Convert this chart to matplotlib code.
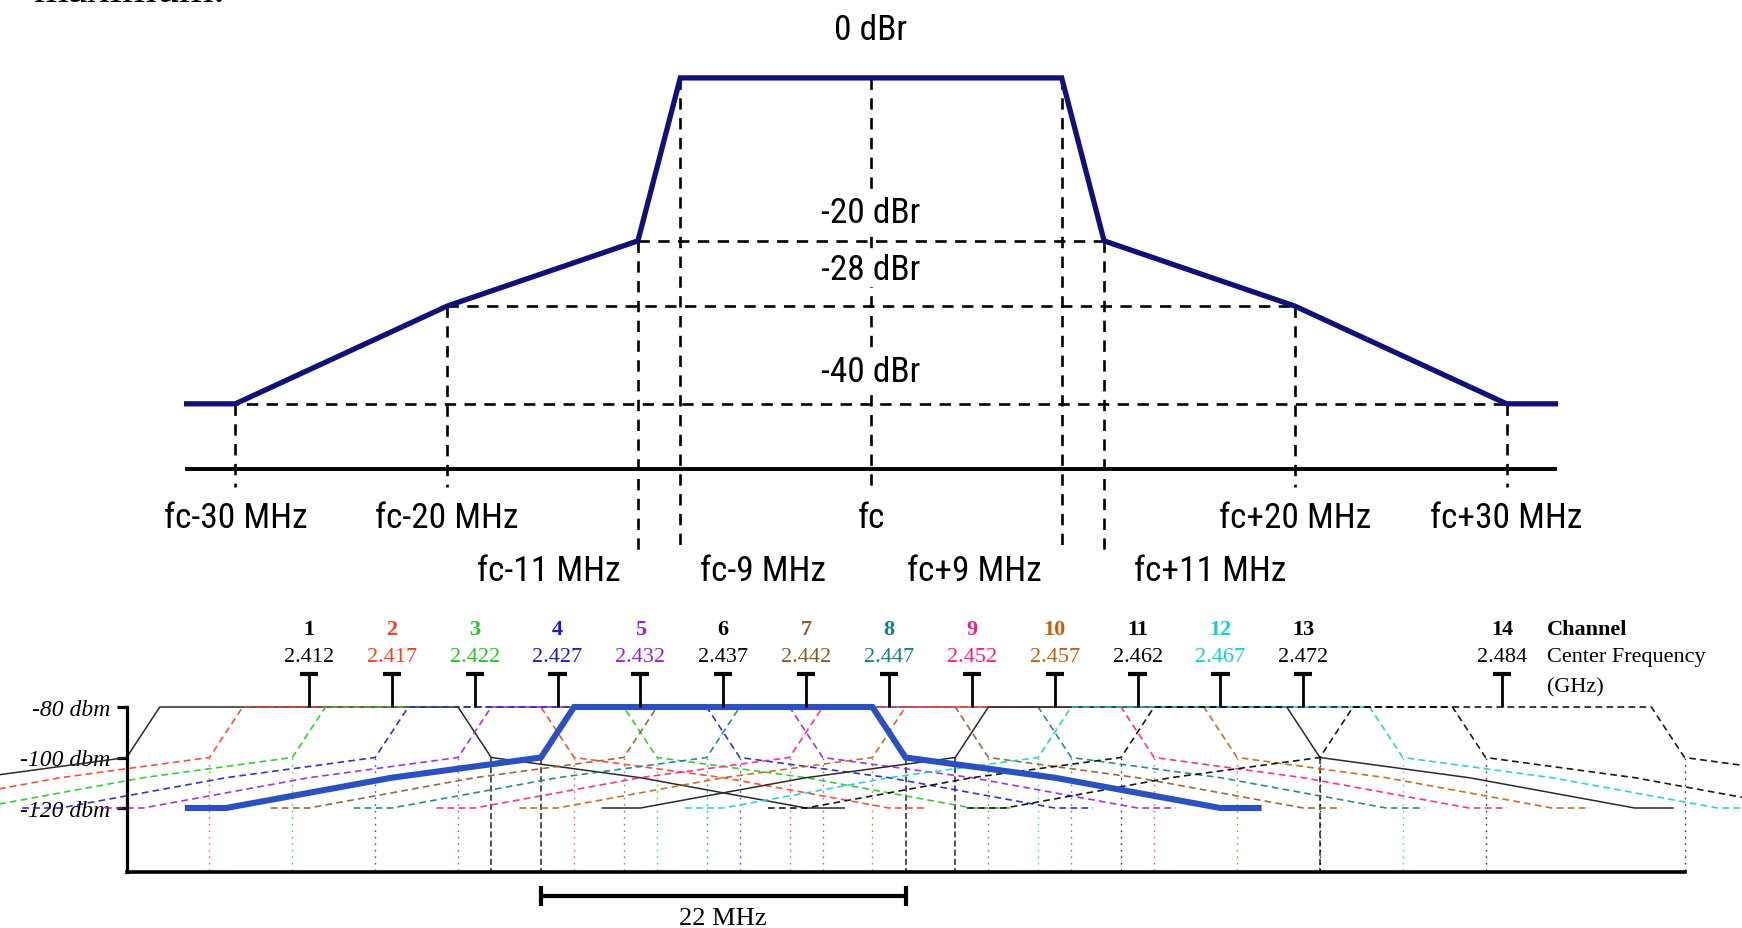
import matplotlib
matplotlib.use("Agg")
import matplotlib.pyplot as plt
import numpy as np

# ---------------------------------------------------------------------------
# Transmit spectrum mask (offset from carrier in MHz, level in dBr)
mask_offsets = [-32.3, -30, -20, -11, -9, 9, 11, 20, 30, 32.3]
mask_levels = [-40, -40, -28, -20, 0, 0, -20, -28, -40, -40]

# dashed reference levels and the half-width each one spans
ref_levels = [-20, -28, -40]
ref_halfwidths = [11, 20, 32.3]
level_labels = ["0 dBr", "-20 dBr", "-28 dBr", "-40 dBr"]
level_values = [0, -20, -28, -40]

upper_offsets = [-30, -20, 0, 20, 30]
upper_labels = ["fc-30 MHz", "fc-20 MHz", "fc", "fc+20 MHz", "fc+30 MHz"]
lower_offsets = [-11, -9, 9, 11]
lower_labels = ["fc-11 MHz", "fc-9 MHz", "fc+9 MHz", "fc+11 MHz"]

# ---------------------------------------------------------------------------
# 2.4 GHz channel plan
channels = [1, 2, 3, 4, 5, 6, 7, 8, 9, 10, 11, 12, 13, 14]
centers_mhz = [2412, 2417, 2422, 2427, 2432, 2437, 2442, 2447, 2452, 2457,
               2462, 2467, 2472, 2484]
center_labels = ["2.412", "2.417", "2.422", "2.427", "2.432", "2.437", "2.442",
                 "2.447", "2.452", "2.457", "2.462", "2.467", "2.472", "2.484"]
peak_dbm = -80
dbm_ticks = [-80, -100, -120]
dbm_labels = ["-80 dbm", "-100 dbm", "-120 dbm"]
highlight_channel = 6
occupied_bw = 22  # MHz

# styling per channel
ch_colors = ["#000000", "#ff3b1f", "#1ec81e", "#1a1ad0", "#9a1fd0", "#000000",
             "#8a5a2a", "#108080", "#ff1a80", "#c06010", "#000000", "#10d0d0",
             "#000000", "#000000"]
ch_solid = {1, 11}

SANS = ["Roboto Condensed", "Liberation Sans", "DejaVu Sans"]
SERIF = ["Liberation Serif", "DejaVu Serif"]
SANS_SIZE = 25.5

W, H = 1742, 929
fig = plt.figure(figsize=(W / 100, H / 100), dpi=100)
fig.patch.set_facecolor("white")

# fragment of the preceding line of text
fig.text(33 / W, 1 - 2.5 / H, "maximum.", family=SERIF, fontsize=32,
         va="baseline", ha="left", color="black")

# ===========================================================================
# Upper panel: spectral mask in dBr
ax1 = fig.add_axes([186.6 / W, 1 - 470 / H, 1368.8 / W, (470 - 78.9) / H])
ax1.set_xlim(-32.3, 32.3)
ax1.set_ylim(-48, 0)
for s in ("top", "left", "right"):
    ax1.spines[s].set_visible(False)
ax1.spines["bottom"].set_linewidth(2.8)
ax1.set_xticks([])
ax1.set_yticks([])
ax1.patch.set_alpha(0)

dash_kw = dict(color="black", lw=1.9, dashes=(4.3, 3.2), clip_on=False, zorder=2)

for lvl, hw in zip(ref_levels, ref_halfwidths):
    ax1.plot([-hw, hw], [lvl, lvl], **dash_kw)

for off in upper_offsets:
    top = np.interp(off, mask_offsets, mask_levels)
    ax1.plot([off, off], [top, -50.2], **dash_kw)
for off in lower_offsets:
    top = np.interp(off, mask_offsets, mask_levels)
    ax1.plot([off, off], [top, -57.9], **dash_kw)

ax1.plot(mask_offsets, mask_levels, color="#10107a", lw=3.8,
         solid_joinstyle="miter", clip_on=False, zorder=4)

label_y = {0: 6.0, -20: -16.5, -28: -23.5, -40: -36.0}
for txt, val in zip(level_labels, level_values):
    ax1.text(0, label_y[val], txt, family=SANS, fontsize=SANS_SIZE, ha="center",
             va="center", zorder=5,
             bbox=dict(facecolor="white", edgecolor="none", pad=1.0)
             if val != 0 else None)

for off, txt in zip(upper_offsets, upper_labels):
    ax1.text(off, -54.0, txt, family=SANS, fontsize=SANS_SIZE, ha="center",
             va="center")

lower_centers = [-15.2, -5.1, 4.9, 16.0]
for cx, txt in zip(lower_centers, lower_labels):
    ax1.text(cx, -60.4, txt, family=SANS, fontsize=SANS_SIZE, ha="center",
             va="center")

# ===========================================================================
# Lower panel: overlapping channel masks in dBm
Y_TOP, Y_BOT = 708.0, 873.0          # pixel rows of -80 dBm and the floor
PX_PER_DB = 2.525
floor_dbm = peak_dbm - (Y_BOT - Y_TOP) / PX_PER_DB

ax2 = fig.add_axes([126.6 / W, 1 - Y_BOT / H, (1684.5 - 126.6) / W,
                    (Y_BOT - Y_TOP) / H])
ax2.set_xlim(2401, 2495)
ax2.set_ylim(floor_dbm, peak_dbm)
ax2.patch.set_alpha(0)
for s in ("top", "right"):
    ax2.spines[s].set_visible(False)
ax2.spines["left"].set_linewidth(2.3)
ax2.spines["bottom"].set_linewidth(2.6)
ax2.spines["left"].set_zorder(6)
ax2.spines["bottom"].set_zorder(6)
ax2.set_xticks([])
ax2.set_yticks(dbm_ticks)
ax2.set_yticklabels(dbm_labels, family=SERIF, style="italic", fontsize=17)
ax2.tick_params(axis="y", direction="out", length=7, width=2.3, pad=5)

offs = np.array(mask_offsets)
lvls = peak_dbm + np.array(mask_levels)
edge = 11  # MHz where each mask reaches -100 dBm

for ch, fcen, col in zip(channels, centers_mhz, ch_colors):
    xs = fcen + offs
    if ch == highlight_channel:
        for ex in (fcen - edge, fcen + edge):
            ax2.plot([ex, ex], [peak_dbm - 20, floor_dbm], color="#222222",
                     lw=1.1, dashes=(4, 2), clip_on=False, zorder=2)
        continue
    if ch in ch_solid:
        ax2.plot(xs, lvls, color="#2a2a2a", lw=1.1, clip_on=False, zorder=3)
        vkw = dict(color="#222222", lw=1.1, dashes=(4, 2))
    else:
        ax2.plot(xs, lvls, color=col, lw=1.2, dashes=(4, 2.6), alpha=0.9,
                 clip_on=False, zorder=3)
        vkw = dict(color=col, lw=1.0, dashes=(1.2, 3.5), alpha=0.8)
    for ex in (fcen - edge, fcen + edge):
        ax2.plot([ex, ex], [peak_dbm - 20, floor_dbm], clip_on=False, zorder=2,
                 **vkw)

# highlighted channel drawn on top
hc = centers_mhz[channels.index(highlight_channel)]
ax2.plot(hc + offs, lvls, color="#2b50c0", lw=4.4, solid_joinstyle="miter",
         clip_on=False, zorder=5)

# channel centre markers and labels
for ch, fcen, lab, col in zip(channels, centers_mhz, center_labels, ch_colors):
    ax2.plot([fcen, fcen], [peak_dbm, -66.9], color="black", lw=2.0,
             clip_on=False, zorder=6, solid_capstyle="butt")
    ax2.plot([fcen - 0.55, fcen + 0.55], [-66.9, -66.9], color="black", lw=3.0,
             clip_on=False, zorder=6, solid_capstyle="butt")
    ax2.text(fcen, -49.3, str(ch), family=SERIF, fontsize=16, weight="bold",
             color=col, ha="center", va="center")
    ax2.text(fcen, -59.9, lab, family=SERIF, fontsize=16, color=col,
             ha="center", va="center")

legend_x = centers_mhz[-1] + 2.7
ax2.text(legend_x, -49.3, "Channel", family=SERIF, fontsize=16, weight="bold",
         ha="left", va="center")
ax2.text(legend_x, -59.9, "Center Frequency", family=SERIF, fontsize=16,
         ha="left", va="center")
ax2.text(legend_x, -72.2, "(GHz)", family=SERIF, fontsize=16,
         ha="left", va="center")

# occupied bandwidth bracket
b0, b1 = hc - occupied_bw / 2, hc + occupied_bw / 2
ax2.plot([b0, b1], [-154.9, -154.9], color="black", lw=3.0, clip_on=False,
         solid_capstyle="butt")
for bx in (b0, b1):
    ax2.plot([bx, bx], [-150.9, -158.9], color="black", lw=3.0, clip_on=False,
             solid_capstyle="butt")
ax2.text(hc, -165.8, f"{occupied_bw} MHz", family=SERIF, fontsize=19,
         ha="center", va="baseline")

fig.savefig("out.png", dpi=100, facecolor="white")
